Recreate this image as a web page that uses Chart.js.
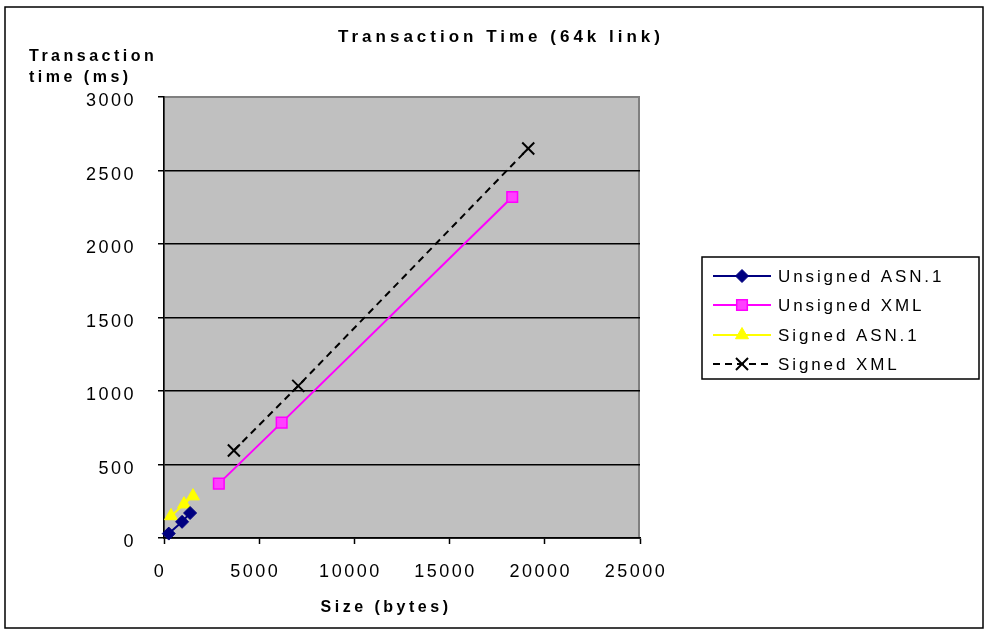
<!DOCTYPE html>
<html>
<head>
<meta charset="utf-8">
<title>Transaction Time (64k link)</title>
<script src="https://cdn.jsdelivr.net/npm/chart.js@4.4.0/dist/chart.umd.min.js"></script>
<style>
  html, body { margin: 0; padding: 0; background: #fff; }
  #wrap { width: 988px; height: 633px; position: relative; }
</style>
</head>
<body>
<div id="wrap"><canvas id="txChart" width="988" height="633"></canvas></div>
<script>
// values
const unsignedAsnX = [250, 950, 1370];
const unsignedAsnY = [30, 110, 170];
const unsignedXmlX = [2880, 6180, 18290];
const unsignedXmlY = [370, 785, 2320];
const signedAsnX = [370, 1050, 1520];
const signedAsnY = [150, 230, 285];
const signedXmlX = [3670, 7050, 19130];
const signedXmlY = [595, 1035, 2650];

const xTicks = [0, 5000, 10000, 15000, 20000, 25000];
const yTicks = [0, 500, 1000, 1500, 2000, 2500, 3000];
const seriesNames = ['Unsigned ASN.1', 'Unsigned XML', 'Signed ASN.1', 'Signed XML'];

const FONT = '"Liberation Sans", Arial, sans-serif';

function pts(xs, ys) {
  return xs.map((x, i) => ({ x: x, y: ys[i] }));
}

// plot background, frame, titles and legend
const decor = {
  id: 'decor',
  beforeUpdate(chart) {
    chart.ctx.letterSpacing = '2.5px';
  },
  beforeDraw(chart) {
    const { ctx, chartArea: a } = chart;
    ctx.save();
    ctx.fillStyle = '#fff';
    ctx.fillRect(0, 0, chart.width, chart.height);
    ctx.strokeStyle = '#000';
    ctx.lineWidth = 1.5;
    ctx.strokeRect(5, 7, 978, 621);
    ctx.fillStyle = '#c0c0c0';
    ctx.fillRect(a.left, a.top, a.right - a.left, a.bottom - a.top);
    ctx.strokeStyle = '#808080';
    ctx.lineWidth = 2;
    ctx.strokeRect(a.left, a.top, a.right - a.left - 1, a.bottom - a.top);
    ctx.restore();
    ctx.letterSpacing = '2.5px';
  },
  afterDraw(chart) {
    const ctx = chart.ctx;
    ctx.save();
    ctx.fillStyle = '#000';
    ctx.textBaseline = 'alphabetic';

    ctx.font = 'bold 17px ' + FONT;
    ctx.letterSpacing = '4px';
    ctx.textAlign = 'center';
    ctx.fillText('Transaction Time (64k link)', 501, 42);

    ctx.font = 'bold 16px ' + FONT;
    ctx.letterSpacing = '3.5px';
    ctx.textAlign = 'center';
    ctx.fillText('Size (bytes)', 386, 612);

    ctx.textAlign = 'left';
    ctx.fillText('Transaction', 29, 61);
    ctx.fillText('time (ms)', 29, 82);

    // legend
    ctx.lineWidth = 1.5;
    ctx.strokeStyle = '#000';
    ctx.fillStyle = '#fff';
    ctx.fillRect(702, 257, 277, 122);
    ctx.strokeRect(702, 257, 277, 122);
    const rows = [276, 305, 335, 364];
    ctx.font = '17px ' + FONT;
    ctx.letterSpacing = '2.9px';
    chart.data.datasets.forEach((ds, i) => {
      const y = rows[i];
      ctx.save();
      ctx.strokeStyle = ds.borderColor;
      ctx.lineWidth = ds.borderWidth;
      ctx.setLineDash(ds.borderDash || []);
      ctx.beginPath();
      ctx.moveTo(713, y);
      ctx.lineTo(771, y);
      ctx.stroke();
      ctx.setLineDash([]);
      ctx.fillStyle = ds.pointBackgroundColor;
      ctx.strokeStyle = ds.pointBorderColor;
      ctx.lineWidth = ds.pointBorderWidth;
      Chart.helpers.drawPoint(ctx, {
        pointStyle: ds.pointStyle,
        radius: ds.pointRadius,
        rotation: 0,
        borderWidth: ds.pointBorderWidth
      }, 742, y);
      ctx.restore();
      ctx.fillStyle = '#000';
      ctx.textAlign = 'left';
      ctx.fillText(ds.label, 778, y + 6);
    });
    ctx.restore();
  }
};

new Chart(document.getElementById('txChart'), {
  type: 'scatter',
  data: {
    datasets: [
      {
        label: seriesNames[0],
        data: pts(unsignedAsnX, unsignedAsnY),
        showLine: true,
        borderColor: '#000080',
        borderWidth: 2,
        pointStyle: 'rectRot',
        pointRadius: 6.5,
        pointBackgroundColor: '#000080',
        pointBorderColor: '#000080',
        pointBorderWidth: 1
      },
      {
        label: seriesNames[1],
        data: pts(unsignedXmlX, unsignedXmlY),
        showLine: true,
        borderColor: '#ff00ff',
        borderWidth: 2,
        pointStyle: 'rect',
        pointRadius: 7.5,
        pointBackgroundColor: '#ff40ff',
        pointBorderColor: '#ff00ff',
        pointBorderWidth: 1.5
      },
      {
        label: seriesNames[2],
        data: pts(signedAsnX, signedAsnY),
        showLine: true,
        borderColor: '#ffff00',
        borderWidth: 2,
        pointStyle: 'triangle',
        pointRadius: 7.5,
        pointBackgroundColor: '#ffff00',
        pointBorderColor: '#ffff00',
        pointBorderWidth: 1
      },
      {
        label: seriesNames[3],
        data: pts(signedXmlX, signedXmlY),
        showLine: true,
        borderColor: '#000000',
        borderWidth: 2,
        borderDash: [7, 5],
        pointStyle: 'crossRot',
        pointRadius: 8.5,
        pointBackgroundColor: '#000000',
        pointBorderColor: '#000000',
        pointBorderWidth: 2
      }
    ]
  },
  options: {
    responsive: false,
    animation: false,
    devicePixelRatio: 1,
    clip: false,
    layout: { padding: { top: 97, right: 348, bottom: 0, left: 0 } },
    plugins: {
      legend: { display: false },
      title: { display: false },
      tooltip: { enabled: false }
    },
    elements: { line: { tension: 0 } },
    scales: {
      x: {
        type: 'linear',
        min: 0,
        max: 25000,
        afterBuildTicks: s => { s.ticks = xTicks.map(v => ({ value: v })); },
        afterFit: s => { s.height = 95; },
        border: { display: true, color: '#000', width: 1.5 },
        grid: { drawOnChartArea: false, drawTicks: true, tickLength: 6, tickColor: '#000', tickWidth: 1.5 },
        ticks: {
          color: '#000',
          padding: 17,
          labelOffset: -4,
          maxRotation: 0,
          autoSkip: false,
          font: { family: FONT, size: 18 },
          callback: v => String(v)
        }
      },
      y: {
        type: 'linear',
        min: 0,
        max: 3000,
        afterBuildTicks: s => { s.ticks = yTicks.map(v => ({ value: v })); },
        afterFit: s => { s.width = 164; },
        border: { display: true, color: '#000', width: 1.5 },
        grid: {
          color: c => (c.tick && c.tick.value === 3000 ? '#808080' : '#000'),
          lineWidth: 1.5,
          drawTicks: true,
          tickLength: 6,
          tickColor: '#000',
          tickWidth: 1.5
        },
        ticks: {
          color: '#000',
          padding: 22,
          labelOffset: 4.5,
          autoSkip: false,
          font: { family: FONT, size: 18 },
          callback: v => String(v)
        }
      }
    }
  },
  plugins: [decor]
});
</script>
</body>
</html>
